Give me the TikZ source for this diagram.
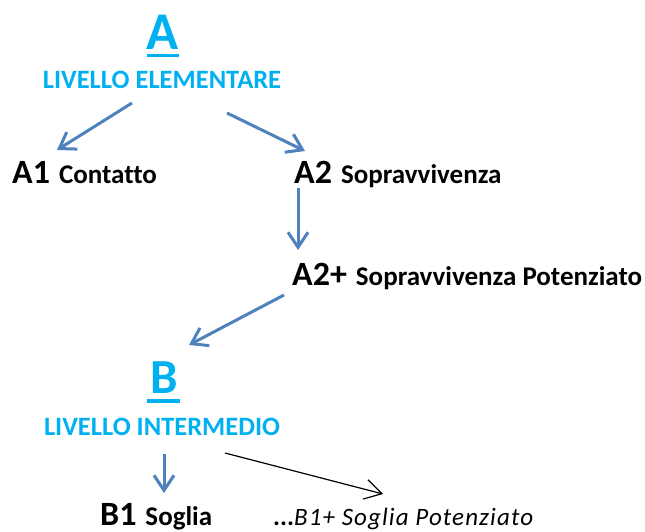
\documentclass[tikz,border=0pt]{standalone}
\usepackage{fontspec}
\setmainfont{Carlito}[Ligatures=NoCommon]
\usetikzlibrary{arrows.meta}

\definecolor{titleblue}{HTML}{00B0F0}
\definecolor{arrowblue}{HTML}{4F81BD}

\newcommand{\lvcode}[2]{{\fontsize{34}{40}\selectfont #1}\hspace{9pt}{\fontsize{27}{30}\selectfont #2}}

\tikzset{
	lvletter/.style={inner sep=0, anchor=base, text=titleblue, font=\fontsize{53}{60}\selectfont\bfseries},
	lvname/.style={inner sep=0, anchor=base, text=titleblue, font=\fontsize{26.5}{30}\selectfont\bfseries},
	code/.style={inner sep=0, anchor=base west, font=\bfseries},
	bluearrow/.style={-{Straight Barb[length=15pt,width=20pt]}, draw=arrowblue, line width=3pt},
	thinarrow/.style={-{Straight Barb[length=17pt,width=20pt]}, draw=black, line width=1.2pt}
}

\begin{document}
\begin{tikzpicture}[x=1pt,y=-1pt]
	\useasboundingbox (0,0) rectangle (645,532);
	% livello A
	\node [lvletter] (A) at (163,50) {A};
	\draw [titleblue, line width=3pt] ([shift={(0,6)}]A.base west) -- ([shift={(0,6)}]A.base east);
	\node [lvname] (Aname) at (162,89) {LIVELLO ELEMENTARE};
	\node [code] (A1) at (12,183) {\lvcode{A1}{Contatto}};
	\node [code] (A2) at (294,183) {\lvcode{A2}{Sopravvivenza}};
	\node [code] (A2p) at (292,285) {\lvcode{A2+}{Sopravvivenza Potenziato}};
	% livello B
	\node [lvletter, font=\fontsize{49}{56}\selectfont\bfseries] (B) at (164,393) {B};
	\draw [titleblue, line width=3.5pt] ([shift={(-3,8)}]B.base west) -- ([shift={(2,8)}]B.base east);
	\node [lvname] (Bname) at (162,435) {LIVELLO INTERMEDIO};
	\node [code] (B1) at (100,525) {\lvcode{B1}{Soglia}};
	\node [inner sep=0, anchor=base west] (B1p) at (273,525)
		{{\fontsize{26}{30}\selectfont\bfseries...}{\fontsize{25}{30}\selectfont\itshape\addfontfeature{LetterSpace=4.5}B1+ Soglia Potenziato}};
	% frecce
	\draw [bluearrow] ([shift={(-30,14)}]Aname.base) -- ([shift={(45,-33)}]A1.base west);
	\draw [bluearrow] ([shift={(65,24)}]Aname.base) -- ([shift={(11,-32)}]A2.base west);
	\draw [bluearrow] ([shift={(4,5)}]A2.base west) -- ([shift={(6,-35)}]A2p.base west);
	\draw [bluearrow] ([shift={(-8,10)}]A2p.base west) -- ([shift={(25,-48)}]B.base);
	\draw [bluearrow] ([shift={(2,19)}]Bname.base) -- ([shift={(64,-32)}]B1.base west);
	\draw [thinarrow] ([shift={(63,18)}]Bname.base) -- ([shift={(110,-31)}]B1p.base west);
\end{tikzpicture}
\end{document}
